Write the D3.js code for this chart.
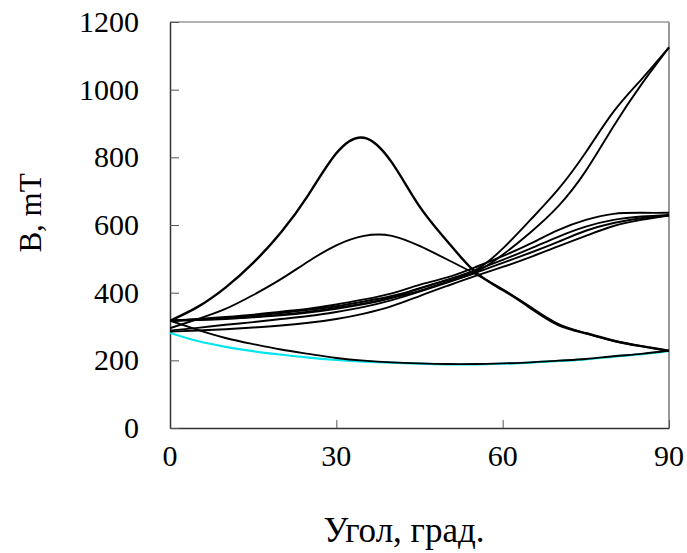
<!DOCTYPE html>
<html><head><meta charset="utf-8">
<script src="https://cdn.jsdelivr.net/npm/d3@7"></script>
<style>body{margin:0;background:#fff}svg{display:block}</style>
</head><body>
<script>
const angles = [0,5,10,15,20,25,30,35,40,45,50,55,60,65,70,75,80,85,90];
const xTicks = [0,30,60,90];
const yTicks = [0,200,400,600,800,1000,1200];

const peakHigh   = [317,358,415,488,578,690,812,858,785,655,552,462,408,355,305,280,258,242,228];
const peakLow    = [295,322,352,393,440,493,540,568,568,538,498,456,410,358,308,280,258,242,228];
const descending = [317,290,266,248,232,219,207,199,194,191,189,189,191,194,199,204,212,219,229];
const bottomCyan = [281,257,240,227,217,208,201,196,193,190,188,188,190,193,198,203,211,218,228];
const riseHighA  = [317,321,325,332,340,349,360,374,390,412,437,466,530,615,705,815,935,1030,1125];
const riseHighB  = [317,319,322,328,335,344,355,368,385,405,432,460,512,578,655,760,892,1015,1125];
const rise630A   = [317,322,328,335,344,353,365,380,398,423,445,475,508,545,585,615,633,636,636];
const rise630B   = [317,320,323,327,333,341,352,366,385,413,438,466,497,530,565,595,615,625,630];
const rise630C   = [288,296,305,313,322,331,343,358,378,403,430,458,488,518,550,583,606,620,628];
const rise630D   = [285,288,292,297,303,311,322,338,360,390,420,449,476,505,537,568,597,615,628];

const W = 687, H = 553;
const m = {l:170, r:669, t:22, b:428};
const svg = d3.select("body").append("svg").attr("width",W).attr("height",H);
const x = d3.scaleLinear().domain([0,90]).range([m.l,m.r]);
const y = d3.scaleLinear().domain([0,1200]).range([m.b,m.t]);

svg.append("line").attr("x1",m.l).attr("x2",m.r).attr("y1",m.t).attr("y2",m.t).attr("stroke","#999").attr("stroke-width",1.5);
svg.append("line").attr("x1",m.r).attr("x2",m.r).attr("y1",m.t).attr("y2",m.b).attr("stroke","#999").attr("stroke-width",2);

const font = "'Liberation Serif','Times New Roman',serif";
const gx = svg.append("g").attr("transform",`translate(0,${m.b})`)
  .call(d3.axisTop(x).tickValues(xTicks).tickSize(8).tickSizeOuter(0).tickFormat(d3.format("d")));
gx.selectAll("text").remove();
const gy = svg.append("g").attr("transform",`translate(${m.l},0)`)
  .call(d3.axisRight(y).tickValues(yTicks).tickSize(9).tickSizeOuter(0).tickFormat(d3.format("d")));
gy.selectAll("text").remove();
[gx,gy].forEach(g=>{g.select(".domain").attr("stroke","#333").attr("stroke-width",1.5);g.selectAll(".tick line").attr("stroke","#555");});

svg.append("g").selectAll("text").data(xTicks).join("text")
  .attr("x",d=>x(d)).attr("y",466).attr("text-anchor","middle")
  .attr("font-family",font).attr("font-size",30).text(d=>d);
svg.append("g").selectAll("text").data(yTicks).join("text")
  .attr("x",139).attr("y",d=>y(d)+10).attr("text-anchor","end")
  .attr("font-family",font).attr("font-size",30).text(d=>d);

svg.append("text").attr("x",404).attr("y",542).attr("text-anchor","middle")
  .attr("font-family",font).attr("font-size",35).text("Угол, град.");
svg.append("text").attr("transform","translate(41,213) rotate(-90)").attr("text-anchor","middle")
  .attr("font-family",font).attr("font-size",31).text("B, mT");

const line = d3.line().x((d,i)=>x(angles[i])).y(d=>y(d)).curve(d3.curveNatural);
svg.append("clipPath").attr("id","c").append("rect").attr("x",m.l).attr("y",m.t-2).attr("width",m.r-m.l+1).attr("height",m.b-m.t+2);
const g = svg.append("g").attr("clip-path","url(#c)");
g.append("path").attr("d",line(bottomCyan)).attr("fill","none").attr("stroke","#00e5ee").attr("stroke-width",2.2);
const blacks = [descending,rise630D,rise630C,rise630B,rise630A,riseHighB,riseHighA,peakLow,peakHigh];
g.selectAll("path.b").data(blacks).join("path").attr("class","b")
  .attr("d",d=>line(d)).attr("fill","none").attr("stroke","#000")
  .attr("stroke-width",(d,i)=>i===blacks.length-1?2.4:1.9);
</script>
</body></html>
